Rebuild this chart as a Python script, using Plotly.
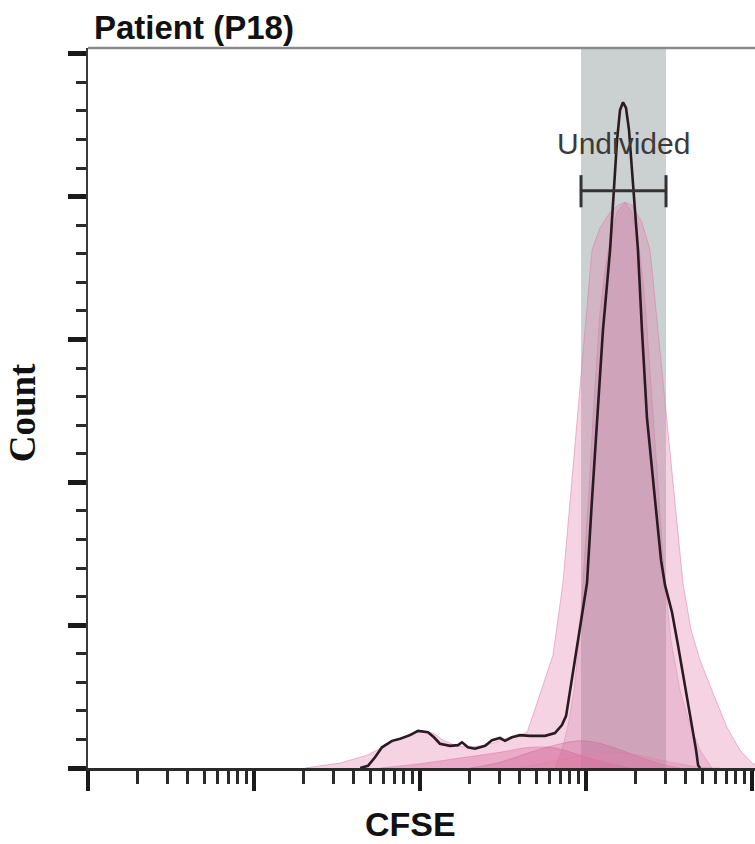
import numpy as np
import plotly.graph_objects as go

# ---------------- data ----------------
title_text = "Patient (P18)"
x_title = "CFSE"
y_title = "Count"
gate_label = "Undivided"

gate_range = [933, 3034]          # CFSE limits of the "Undivided" gate
gate_bar_count = 808              # count level of the gate bracket
gate_cap_counts = [785, 830]      # bracket end-cap extent
gate_label_count = 875            # count level of the gate label

# black line: patient sample
black_cfse = [43.6, 48.6, 53.6, 59, 67.8, 75.9, 87.1, 97.3, 111.7, 121.3, 131.8, 151.7,
              169.4, 179.1, 194.5, 214.3, 246.6, 271.6, 303.4, 325.1, 358.1, 399.9, 460.3,
              566.2, 650.1, 716.1, 758.6, 801.8, 859, 920.4, 1014, 1086, 1164, 1265, 1396,
              1476, 1538, 1603, 1671, 1742, 1816, 1892, 1972, 2056, 2173, 2328, 2606, 2831,
              2992, 3296, 3581, 3890, 4169, 4416, 4603, 4732, 4864]
black_count = [0, 3, 15, 29, 38, 41, 46, 52, 50, 43, 34, 31, 32, 36, 29, 27, 31, 39, 42, 38,
               43, 46, 45, 45, 49, 60, 73, 109, 151, 193, 259, 375, 491, 613, 725, 809, 879,
               921, 932, 924, 893, 837, 774, 725, 613, 491, 375, 291, 256, 218, 172, 123, 81,
               53, 25, 4, 0]

# broad light-pink overlay
outer_cfse = [20.3, 25.0, 33.0, 48.0, 61.5, 72.7, 87.1, 100, 119.7, 137.7, 162.5, 191.9,
              253.4, 334.2, 399.9, 441.6, 507.0, 582.1, 632.4, 726.1, 801.8, 883.1, 986.3,
              1086, 1213, 1396, 1560, 1718, 1892, 2173, 2432, 2716, 3076, 3436, 3837, 4295,
              4864, 5821, 7063, 8472, 10000, 11170]
outer_count = [0, 3, 7, 18, 31, 39, 48, 52, 49, 39, 32, 29, 32, 42, 46, 50, 91, 133, 158,
               259, 375, 491, 613, 725, 756, 778, 788, 792, 788, 764, 725, 613, 491, 375, 259,
               193, 151, 105, 57, 25, 7, 1]

# narrower pink overlay
inner_cfse = [650.1, 716.1, 779.6, 847.2, 907.8, 972.8, 1042, 1117, 1213, 1300, 1396, 1538,
              1718, 1892, 2056, 2173, 2296, 2500, 2716, 2951, 3251, 3681, 4236, 4864, 5741]
inner_count = [0, 25, 60, 109, 179, 277, 389, 515, 637, 697, 739, 778, 792, 778, 739, 697,
               637, 515, 389, 277, 179, 109, 60, 25, 0]

# low darker-pink overlays
humpC_cfse = [57.4, 100, 174.2, 303.4, 460.3, 650.1, 920.4, 1396, 1841]
humpC_count = [0, 6, 14, 22, 29, 28, 18, 6, 0]
humpD_cfse = [200, 303.4, 460.3, 650.1, 895.4, 1132, 1496, 2113, 2992, 3681]
humpD_count = [0, 8, 22, 32, 38, 36, 28, 15, 4, 0]
humpE_cfse = [399.9, 696.6, 1213, 1841, 2792, 4864, 6412]
humpE_count = [0, 11, 22, 20, 11, 1, 0]

# axis ticks (no labels in the original)
x_decades = [1, 10, 100, 1000, 10000]
x_minor = [m * d for d in x_decades for m in range(2, 10)]
y_major = [0, 200, 400, 600, 800, 1000]
y_minor = list(range(0, 1001, 40))

# ---------------- figure ----------------
fig = go.Figure()

fills = [
    (outer_cfse, outer_count, "rgba(225,125,172,0.34)", "rgba(215,120,165,0.5)", "linear"),
    (inner_cfse, inner_count, "rgba(195,105,150,0.22)", "rgba(190,110,150,0.3)", "linear"),
    (humpC_cfse, humpC_count, "rgba(215,95,150,0.35)", "rgba(210,100,150,0.4)", "spline"),
    (humpD_cfse, humpD_count, "rgba(205,90,140,0.30)", "rgba(200,95,140,0.4)", "spline"),
    (humpE_cfse, humpE_count, "rgba(225,130,170,0.30)", "rgba(215,125,165,0.4)", "spline"),
]
for xs, ys, fc, lc, shp in fills:
    fig.add_trace(go.Scatter(x=xs, y=ys, mode="lines", fill="tozeroy", fillcolor=fc,
                             line=dict(color=lc, width=1, shape=shp),
                             hoverinfo="skip", showlegend=False))

fig.add_trace(go.Scatter(x=black_cfse, y=black_count, mode="lines",
                         line=dict(color="#2b1a22", width=2.6),
                         hoverinfo="skip", showlegend=False))

# gate region (behind traces)
fig.add_shape(type="rect", xref="x", yref="paper", x0=gate_range[0], x1=gate_range[1],
              y0=0, y1=1, fillcolor="rgb(203,209,208)", line=dict(width=0), layer="below")
# bracket
bar_col = "#333333"
fig.add_shape(type="line", xref="x", yref="y", x0=gate_range[0], x1=gate_range[1],
              y0=gate_bar_count, y1=gate_bar_count, line=dict(color=bar_col, width=3))
for gx in gate_range:
    fig.add_shape(type="line", xref="x", yref="y", x0=gx, x1=gx,
                  y0=gate_cap_counts[0], y1=gate_cap_counts[1], line=dict(color=bar_col, width=3))
# top frame line
fig.add_shape(type="line", xref="paper", yref="paper", x0=0, x1=1, y0=1, y1=1,
              line=dict(color="#8a8a8a", width=2.5))

fig.add_annotation(x=np.log10(np.sqrt(gate_range[0] * gate_range[1])), y=gate_label_count,
                   xref="x", yref="y", text=gate_label, showarrow=False,
                   font=dict(family="Liberation Sans, Arial", size=30, color="#3a3a3a"))

fig.add_annotation(x=0.006, y=1.029, xref="paper", yref="paper", text="<b>" + title_text + "</b>",
                   showarrow=False, xanchor="left", yanchor="middle",
                   font=dict(family="Liberation Sans, Arial", size=33, color="#111111"))
fig.add_annotation(x=0.4828, y=-0.078, xref="paper", yref="paper", text="<b>" + x_title + "</b>",
                   showarrow=False, xanchor="center", yanchor="middle",
                   font=dict(family="Liberation Sans, Arial", size=34, color="#111111"))
fig.add_annotation(x=-0.099, y=0.494, xref="paper", yref="paper", text="<b>" + y_title + "</b>",
                   showarrow=False, textangle=-90, xanchor="center", yanchor="middle",
                   font=dict(family="Liberation Serif, Times New Roman", size=37, color="#111111"))

fig.update_xaxes(type="log", range=[0, 4.018], showgrid=False, zeroline=False,
                 showline=True, linecolor="#2a2a2a", linewidth=3,
                 tickmode="array", tickvals=x_decades, showticklabels=False,
                 ticks="outside", ticklen=20, tickwidth=3.5, tickcolor="#1a1a1a",
                 minor=dict(tickmode="array", tickvals=x_minor, ticks="outside",
                            ticklen=13, tickwidth=2.5, tickcolor="#2a2a2a", showgrid=False))
fig.update_yaxes(range=[0, 1008], showgrid=False, zeroline=False,
                 showline=True, linecolor="#3a3a3a", linewidth=2,
                 tickmode="array", tickvals=y_major, showticklabels=False,
                 ticks="outside", ticklen=18, tickwidth=4.5, tickcolor="#1a1a1a",
                 minor=dict(tickmode="array", tickvals=y_minor, ticks="outside",
                            ticklen=10, tickwidth=2.5, tickcolor="#2a2a2a", showgrid=False))

fig.update_layout(width=755, height=844, autosize=False,
                  margin=dict(l=88, r=0, t=48, b=76),
                  plot_bgcolor="white", paper_bgcolor="white", showlegend=False)

fig.write_html("out.html", config={"displayModeBar": False})
